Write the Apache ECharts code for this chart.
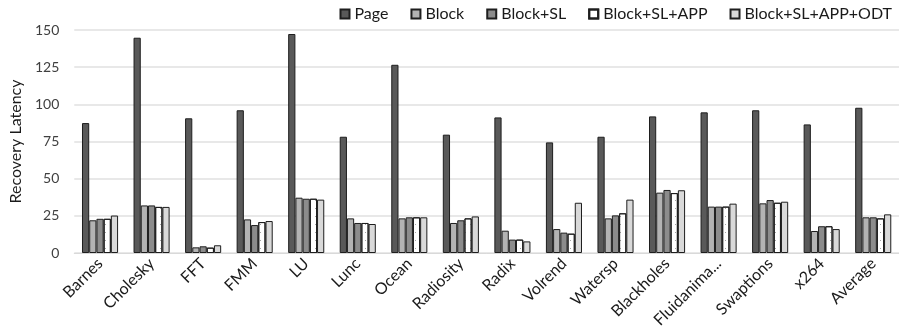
<!DOCTYPE html>
<html>
<head>
<meta charset="utf-8">
<script src="https://cdn.jsdelivr.net/npm/echarts@6/dist/echarts.min.js"></script>
<style>
  html, body { margin: 0; padding: 0; background: #fff; }
  #chart { width: 899px; height: 334px; }
</style>
</head>
<body>
<div id="chart"></div>
<script>
// Benchmarks on the x axis
const categories = ['Barnes', 'Cholesky', 'FFT', 'FMM', 'LU', 'Lunc', 'Ocean', 'Radiosity',
  'Radix', 'Volrend', 'Watersp', 'Blackholes', 'Fluidanima...', 'Swaptions', 'x264', 'Average'];

// Recovery latency per scheme
const page        = [87.4, 144.8, 90.6, 96.0, 147.3, 78.2, 126.6, 79.6, 91.2, 74.4, 78.2, 91.9, 94.6, 96.0, 86.5, 97.7];
const block       = [22.0, 32.0, 3.8, 22.6, 37.2, 23.3, 23.3, 20.2, 15.0, 16.1, 23.3, 40.6, 31.2, 33.4, 14.8, 24.0];
const blockSL     = [23.0, 32.0, 4.5, 18.8, 36.5, 20.2, 24.0, 22.0, 9.0, 13.7, 25.3, 42.4, 31.2, 35.6, 18.0, 24.0];
const blockSLAPP  = [23.0, 31.0, 3.6, 20.8, 36.5, 20.2, 24.0, 23.3, 9.0, 13.0, 26.7, 40.3, 31.2, 33.8, 18.0, 23.3];
const blockSLODT  = [25.2, 31.0, 5.2, 21.5, 35.9, 19.5, 24.0, 24.6, 7.8, 33.8, 35.9, 42.2, 33.2, 34.5, 16.1, 26.0];

const yTicks = [0, 25, 50, 75, 100, 125, 150];

const FONT = 'Lato, "Liberation Sans", sans-serif';
const TEXT = '#404040';

function bar(name, data, color, decal) {
  const s = {
    name: name,
    type: 'bar',
    data: data,
    barGap: '0%',
    barCategoryGap: '30%',
    itemStyle: { color: color, borderColor: '#1e1e1e', borderWidth: 1 },
    emphasis: { disabled: true }
  };
  if (decal) s.itemStyle.decal = decal;
  return s;
}

const chart = echarts.init(document.getElementById('chart'), null, { renderer: 'canvas' });
chart.setOption({
  animation: false,
  aria: { enabled: false, decal: { show: false } },
  textStyle: { fontFamily: FONT },
  legend: {
    top: 1,
    right: 2,
    itemWidth: 9,
    itemHeight: 9,
    itemGap: 22,
    icon: 'rect',
    textStyle: { fontFamily: FONT, fontSize: 16, color: '#1a1a1a' },
    data: ['Page', 'Block', 'Block+SL', 'Block+SL+APP', 'Block+SL+APP+ODT']
  },
  grid: { left: 73, right: 0, top: 30, bottom: 81, containLabel: false },
  xAxis: {
    type: 'category',
    data: categories,
    axisLine: { show: true, lineStyle: { color: '#d9d9d9', width: 1 } },
    axisTick: { show: false },
    axisLabel: {
      rotate: 45,
      interval: 0,
      margin: 8,
      fontFamily: FONT,
      fontSize: 16,
      color: '#1a1a1a'
    }
  },
  yAxis: {
    type: 'value',
    min: yTicks[0],
    max: yTicks[yTicks.length - 1],
    interval: 25,
    name: 'Recovery Latency',
    nameLocation: 'middle',
    nameGap: 50,
    nameRotate: 90,
    nameTextStyle: { fontFamily: FONT, fontSize: 16, color: '#1a1a1a' },
    axisLine: { show: false },
    axisTick: { show: false },
    axisLabel: { fontFamily: FONT, fontSize: 14, color: TEXT, margin: 15 },
    splitLine: { lineStyle: { color: '#e0e0e0', width: 1.5 } }
  },
  series: [
    bar('Page', page, '#595959'),
    bar('Block', block, '#b3b3b3'),
    bar('Block+SL', blockSL, '#8c8c8c'),
    bar('Block+SL+APP', blockSLAPP, '#ffffff', {
      symbol: 'rect',
      symbolSize: 1,
      color: 'rgba(90,90,90,0.55)',
      dashArrayX: [1, 4],
      dashArrayY: [1, 7]
    }),
    bar('Block+SL+APP+ODT', blockSLODT, '#d9d9d9')
  ]
});
</script>
</body>
</html>
